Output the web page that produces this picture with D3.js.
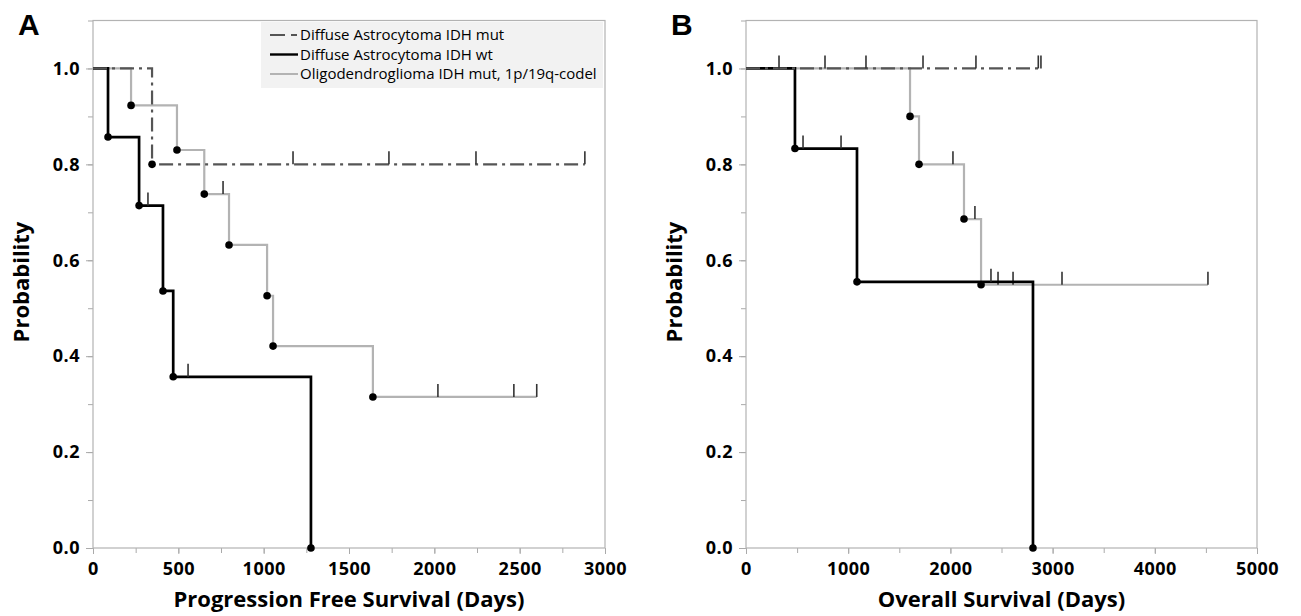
<!DOCTYPE html>
<html>
<head>
<meta charset="utf-8">
<script src="https://cdn.jsdelivr.net/npm/d3@7"></script>
<style>
  body { margin: 0; background: #fff; }
  svg { display: block; font-family: "Open Sans", "DejaVu Sans", sans-serif; }
</style>
</head>
<body>
<script>
// Kaplan-Meier data (days, probability)

// Panel A - progression free survival
const pfsMutEvents = [346];
const pfsMutSurv = [0.8];
const pfsMutCensor = [1172, 1734, 2244, 2882];

const pfsWtEvents = [88, 270, 410, 470, 1277];
const pfsWtSurv = [0.857, 0.714, 0.536, 0.357, 0.0];
const pfsWtCensor = [322, 557];

const pfsOligoEvents = [223, 492, 652, 797, 1020, 1055, 1640];
const pfsOligoSurv = [0.923, 0.83, 0.738, 0.632, 0.526, 0.421, 0.315];
const pfsOligoCensor = [762, 2021, 2466, 2600];

// Panel B - overall survival
const osMutEvents = [];
const osMutSurv = [];
const osMutCensor = [323, 773, 1174, 1732, 2250, 2860, 2886];

const osWtEvents = [479, 1086, 2808];
const osWtSurv = [0.833, 0.555, 0.0];
const osWtCensor = [558, 930, 2397];

const osOligoEvents = [1605, 1693, 2133, 2300];
const osOligoSurv = [0.9, 0.8, 0.686, 0.549];
const osOligoCensor = [2025, 2240, 2466, 2613, 3092, 4520];

const seriesNames = ["Diffuse Astrocytoma IDH mut", "Diffuse Astrocytoma IDH wt", "Oligodendroglioma IDH mut, 1p/19q-codel"];
const yTicks = [0, 0.2, 0.4, 0.6, 0.8, 1.0];
const pfsTicks = [0, 500, 1000, 1500, 2000, 2500, 3000];
const osTicks = [0, 1000, 2000, 3000, 4000, 5000];

const W = 1301, H = 616;
const plotTop = 20.5, plotBottom = 548;

const svg = d3.select("body").append("svg")
  .attr("width", W).attr("height", H);
svg.append("rect").attr("width", W).attr("height", H).attr("fill", "#fff");

const styles = [
  { stroke: "#555", width: 2.2, dash: "14,5,3,5" },
  { stroke: "#000", width: 2.7, dash: null },
  { stroke: "#b3b3b3", width: 2.2, dash: null }
];

function survAt(events, surv, t) {
  let s = 1;
  events.forEach((e, i) => { if (e <= t) s = surv[i]; });
  return s;
}

function styleLabels(a) {
  a.selectAll("text").attr("fill", "#000")
    .style("font-size", "18px").style("font-weight", "bold")
    .style("letter-spacing", "0.5px")
    .style("font-family", "'Open Sans', sans-serif");
}

function drawPanel(opt) {
  const x = d3.scaleLinear().domain([0, opt.xMax]).range([opt.left, opt.right]);
  const y = d3.scaleLinear().domain([0, 1.1]).range([plotBottom, plotTop]);
  const g = svg.append("g");

  // minor ticks
  g.append("g").attr("transform", `translate(0,${plotBottom})`)
    .call(d3.axisBottom(x).tickValues(d3.range(0, opt.xMax + 1, opt.minor)).tickSize(5).tickFormat(""))
    .call(a => a.select(".domain").remove())
    .call(a => a.selectAll("line").attr("stroke", "#aaa"));
  g.append("g").attr("transform", `translate(${opt.left},0)`)
    .call(d3.axisLeft(y).tickValues(d3.range(0, 1.11, 0.1)).tickSize(5).tickFormat(""))
    .call(a => a.select(".domain").remove())
    .call(a => a.selectAll("line").attr("stroke", "#aaa"));

  // major ticks with labels
  g.append("g").attr("transform", `translate(0,${plotBottom})`)
    .call(d3.axisBottom(x).tickValues(opt.ticks).tickSize(6).tickPadding(8).tickFormat(d3.format("d")))
    .call(a => a.select(".domain").remove())
    .call(a => a.selectAll("line").attr("stroke", "#aaa"))
    .call(styleLabels);
  g.append("g").attr("transform", `translate(${opt.left},0)`)
    .call(d3.axisLeft(y).tickValues(yTicks).tickSize(7).tickPadding(6).tickFormat(d3.format(".1f")))
    .call(a => a.select(".domain").remove())
    .call(a => a.selectAll("line").attr("stroke", "#aaa"))
    .call(styleLabels);

  // frame
  g.append("rect")
    .attr("x", opt.left).attr("y", plotTop)
    .attr("width", opt.right - opt.left).attr("height", plotBottom - plotTop)
    .attr("fill", "none").attr("stroke", "#b3b3b3").attr("stroke-width", 1.2);

  const line = d3.line().x(d => x(d[0])).y(d => y(d[1])).curve(d3.curveStepAfter);

  // draw oligo first, then wt, then mut on top
  [2, 1, 0].forEach(i => {
    const s = opt.series[i];
    const end = Math.max(d3.max(s.events) || 0, d3.max(s.censor) || 0);
    const pts = [[0, 1]].concat(s.events.map((e, k) => [e, s.surv[k]]));
    pts.push([end, s.surv.length ? s.surv[s.surv.length - 1] : 1]);
    g.append("path").datum(pts)
      .attr("d", line)
      .attr("fill", "none")
      .attr("stroke", styles[i].stroke)
      .attr("stroke-width", styles[i].width)
      .attr("stroke-dasharray", styles[i].dash);

    g.selectAll(null).data(s.censor).join("line")
      .attr("x1", d => x(d)).attr("x2", d => x(d))
      .attr("y1", d => y(survAt(s.events, s.surv, d)))
      .attr("y2", d => y(survAt(s.events, s.surv, d)) - 13)
      .attr("stroke", "#333").attr("stroke-width", 1.6);

    g.selectAll(null).data(s.events).join("circle")
      .attr("cx", d => x(d))
      .attr("cy", (d, k) => y(s.surv[k]))
      .attr("r", 3.8).attr("fill", "#000");
  });

  // titles
  svg.append("text")
    .attr("x", (opt.left + opt.right) / 2).attr("y", 607)
    .attr("text-anchor", "middle")
    .style("font-size", "22px").style("font-weight", "bold")
    .text(opt.xTitle);
  svg.append("text")
    .attr("transform", `translate(${opt.left - 64},282) rotate(-90)`)
    .attr("text-anchor", "middle")
    .style("font-size", "22px").style("font-weight", "bold")
    .text("Probability");
  svg.append("text")
    .attr("x", opt.left - 75).attr("y", 35)
    .style("font-family", "'Liberation Sans', Arial, sans-serif")
    .style("font-size", "30px").style("font-weight", "bold")
    .text(opt.label);
}

drawPanel({
  left: 93, right: 605, xMax: 3000, minor: 250, ticks: pfsTicks,
  xTitle: "Progression Free Survival (Days)", label: "A",
  series: [
    { events: pfsMutEvents, surv: pfsMutSurv, censor: pfsMutCensor },
    { events: pfsWtEvents, surv: pfsWtSurv, censor: pfsWtCensor },
    { events: pfsOligoEvents, surv: pfsOligoSurv, censor: pfsOligoCensor }
  ]
});

drawPanel({
  left: 746, right: 1257, xMax: 5000, minor: 500, ticks: osTicks,
  xTitle: "Overall Survival (Days)", label: "B",
  series: [
    { events: osMutEvents, surv: osMutSurv, censor: osMutCensor },
    { events: osWtEvents, surv: osWtSurv, censor: osWtCensor },
    { events: osOligoEvents, surv: osOligoSurv, censor: osOligoCensor }
  ]
});

// legend (panel A)
const leg = svg.append("g").attr("transform", "translate(261,22)");
leg.append("rect").attr("width", 342).attr("height", 66).attr("fill", "#f2f2f2");
seriesNames.forEach((name, i) => {
  const yy = 13 + i * 19.5;
  if (i === 0) {
    leg.append("line").attr("x1", 9).attr("x2", 24).attr("y1", yy).attr("y2", yy)
      .attr("stroke", styles[0].stroke).attr("stroke-width", 2);
    leg.append("line").attr("x1", 30).attr("x2", 36).attr("y1", yy).attr("y2", yy)
      .attr("stroke", styles[0].stroke).attr("stroke-width", 2);
  } else {
    leg.append("line").attr("x1", 9).attr("x2", 37).attr("y1", yy).attr("y2", yy)
      .attr("stroke", styles[i].stroke).attr("stroke-width", i === 1 ? 2.4 : 2);
  }
  leg.append("text").attr("x", 39).attr("y", yy + 5)
    .style("font-size", "15px")
    .text(name);
});
</script>
</body>
</html>
